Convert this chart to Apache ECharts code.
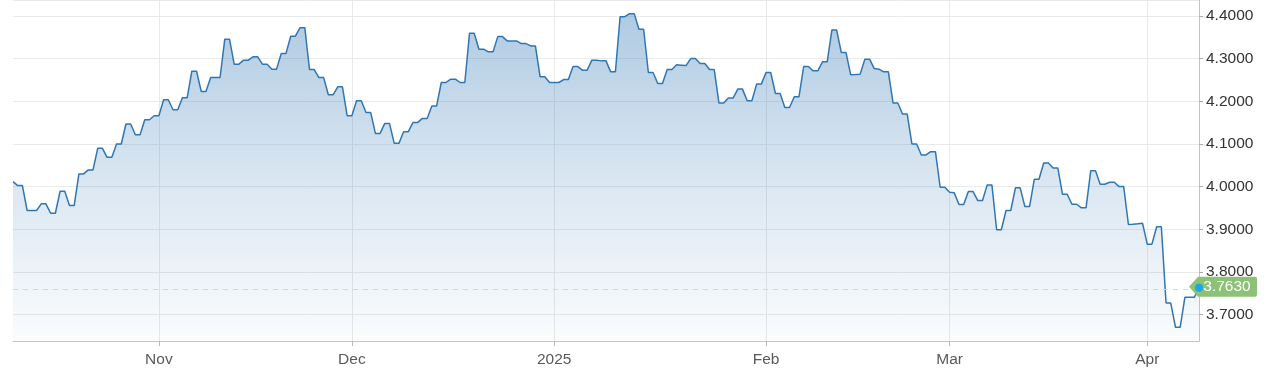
<!DOCTYPE html>
<html>
<head>
<meta charset="utf-8">
<script src="https://cdn.jsdelivr.net/npm/echarts@6/dist/echarts.min.js"></script>
<style>
  html, body { margin: 0; padding: 0; background: #ffffff; }
  #chart { width: 1271px; height: 381px; }
</style>
</head>
<body>
<div id="chart"></div>
<script>
// ---- data ----
const seriesValues = [
  4.0117, 4.0023, 4.0023, 3.9439, 3.9439, 3.9439, 3.9595, 3.9595, 3.9375, 3.9375,
  3.9890, 3.9890, 3.9556, 3.9556, 4.0297, 4.0297, 4.0391, 4.0391, 4.0896, 4.0896,
  4.0685, 4.0685, 4.0999, 4.0999, 4.1467, 4.1467, 4.1216, 4.1216, 4.1567, 4.1567,
  4.1661, 4.1661, 4.2035, 4.2035, 4.1801, 4.1801, 4.2082, 4.2082, 4.2706, 4.2706,
  4.2229, 4.2229, 4.2557, 4.2557, 4.2557, 4.3455, 4.3455, 4.2870, 4.2870, 4.2964,
  4.2964, 4.3041, 4.3041, 4.2870, 4.2870, 4.2753, 4.2753, 4.3118, 4.3118, 4.3525,
  4.3525, 4.3726, 4.3726, 4.2744, 4.2744, 4.2557, 4.2557, 4.2152, 4.2152, 4.2339,
  4.2339, 4.1661, 4.1661, 4.2012, 4.2012, 4.1738, 4.1738, 4.1247, 4.1247, 4.1481,
  4.1481, 4.1013, 4.1013, 4.1287, 4.1287, 4.1504, 4.1504, 4.1598, 4.1598, 4.1888,
  4.1888, 4.2440, 4.2440, 4.2519, 4.2519, 4.2440, 4.2440, 4.3595, 4.3595, 4.3221,
  4.3221, 4.3158, 4.3158, 4.3516, 4.3516, 4.3415, 4.3415, 4.3415, 4.3352, 4.3352,
  4.3298, 4.3298, 4.2573, 4.2573, 4.2440, 4.2440, 4.2440, 4.2510, 4.2510, 4.2814,
  4.2814, 4.2730, 4.2730, 4.2964, 4.2959, 4.2947, 4.2947, 4.2690, 4.2690, 4.3984,
  4.3984, 4.4054, 4.4054, 4.3689, 4.3689, 4.2674, 4.2674, 4.2416, 4.2416, 4.2744,
  4.2744, 4.2854, 4.2847, 4.2837, 4.3001, 4.3001, 4.2884, 4.2884, 4.2744, 4.2744,
  4.1958, 4.1958, 4.2075, 4.2075, 4.2285, 4.2285, 4.2012, 4.2012, 4.2402, 4.2402,
  4.2674, 4.2674, 4.2182, 4.2182, 4.1855, 4.1855, 4.2105, 4.2105, 4.2814, 4.2814,
  4.2713, 4.2713, 4.2924, 4.2924, 4.3673, 4.3673, 4.3142, 4.3142, 4.2620, 4.2627,
  4.2636, 4.2987, 4.2987, 4.2767, 4.2753, 4.2690, 4.2690, 4.1958, 4.1958, 4.1701,
  4.1701, 4.0999, 4.0999, 4.0742, 4.0742, 4.0819, 4.0819, 3.9984, 3.9984, 3.9867,
  3.9853, 3.9579, 3.9579, 3.9883, 3.9883, 3.9673, 3.9673, 4.0040, 4.0040, 3.8987,
  3.8987, 3.9439, 3.9439, 3.9970, 3.9970, 3.9532, 3.9532, 4.0171, 4.0171, 4.0554,
  4.0554, 4.0437, 4.0437, 3.9820, 3.9820, 3.9586, 3.9586, 3.9502, 3.9502, 4.0374,
  4.0374, 4.0054, 4.0054, 4.0101, 4.0101, 4.0000, 4.0000, 3.9111, 3.9118, 3.9127,
  3.9142, 3.8650, 3.8650, 3.9057, 3.9057, 3.7270, 3.7270, 3.6702, 3.6702, 3.7404,
  3.7404, 3.7404, 3.7630
];
const xTickLabels = ['Nov', 'Dec', '2025', 'Feb', 'Mar', 'Apr'];
const xTickIndex  = [31, 72, 115, 160, 199, 241];
const yAxisMin = 3.638;
const yAxisMax = 4.4374;
// ------------------------------------------------

const categories = seriesValues.map((_, i) => String(i));
const lastIndex = seriesValues.length - 1;
const lastValue = seriesValues[lastIndex];
const isTick = (idx) => xTickIndex.indexOf(idx) !== -1;
const FONT = "'Liberation Sans', Arial, Helvetica, sans-serif";

const chart = echarts.init(document.getElementById('chart'), null, { renderer: 'canvas' });
chart.setOption({
  animation: false,
  backgroundColor: '#ffffff',
  textStyle: { fontFamily: FONT },
  grid: { left: 13, right: 72, top: -1, bottom: 40, containLabel: false },
  xAxis: {
    type: 'category',
    data: categories,
    boundaryGap: false,
    axisLine: { show: true, lineStyle: { color: '#c4c4c4', width: 1 } },
    axisTick: { show: true, length: 5, interval: (i) => isTick(i), lineStyle: { color: '#b8b8b8' } },
    axisLabel: {
      show: true,
      interval: (i) => isTick(i),
      formatter: (v, i) => { const k = xTickIndex.indexOf(Number(v)); return k >= 0 ? xTickLabels[k] : ''; },
      color: '#5a5a5a', fontSize: 15.5, margin: 11, fontFamily: FONT
    },
    splitLine: { show: true, interval: (i) => isTick(i), lineStyle: { color: '#e9e9e9', width: 1 } }
  },
  yAxis: {
    type: 'value',
    position: 'right',
    min: yAxisMin,
    max: yAxisMax,
    splitNumber: 8,
    axisLine: { show: true, lineStyle: { color: '#c4c4c4', width: 1 } },
    axisTick: { show: true, length: 4, lineStyle: { color: '#aaaaaa' } },
    axisLabel: {
      show: true, showMinLabel: false, showMaxLabel: false,
      formatter: (v) => v.toFixed(4),
      color: '#333333', fontSize: 15.5, margin: 7, fontFamily: FONT
    },
    splitLine: { show: true, lineStyle: { color: '#eaeaea', width: 1 } }
  },
  series: [{
    type: 'line',
    data: seriesValues,
    showSymbol: false,
    symbol: 'none',
    lineStyle: { color: '#2f76b4', width: 1.5 },
    itemStyle: { color: '#2f76b4' },
    areaStyle: {
      origin: 'start',
      color: new echarts.graphic.LinearGradient(0, 0, 0, 1, [
        { offset: 0, color: 'rgba(47,118,180,0.55)' },
        { offset: 0.5, color: 'rgba(47,118,180,0.26)' },
        { offset: 1, color: 'rgba(47,118,180,0.03)' }
      ])
    },
    markLine: {
      silent: true,
      symbol: 'none',
      label: { show: false },
      lineStyle: { type: [5, 5], color: '#d6d6d6', width: 1 },
      data: [{ yAxis: lastValue }]
    },
    markPoint: {
      silent: true,
      data: [
        {
          coord: [lastIndex, lastValue],
          symbol: 'path://M0,10 L9,0 L66,0 Q68,0 68,2 L68,18 Q68,20 66,20 L9,20 Z',
          symbolSize: [68, 20],
          symbolKeepAspect: false,
          symbolOffset: [24, -1],
          itemStyle: { color: '#8cc276' },
          label: {
            show: true, position: 'inside', offset: [4, 0],
            formatter: () => lastValue.toFixed(4),
            color: '#ffffff', fontSize: 15.5, fontFamily: FONT
          }
        },
        {
          coord: [lastIndex, lastValue],
          symbol: 'circle',
          symbolSize: 8,
          itemStyle: { color: '#1ea6ea' },
          label: { show: false }
        }
      ]
    }
  }]
});
</script>
</body>
</html>
